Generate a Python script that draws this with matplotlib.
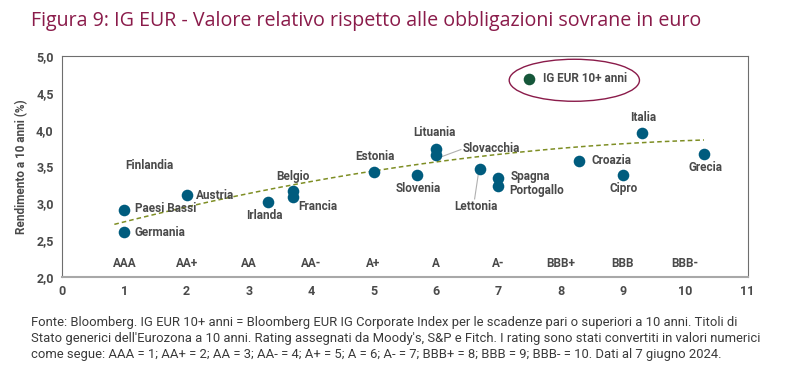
import matplotlib
matplotlib.use("Agg")
import matplotlib.pyplot as plt
import numpy as np
from matplotlib.patches import Ellipse

# Paesi, rating numerico e rendimento a 10 anni
countries = ["Paesi Bassi", "Germania", "Austria", "Irlanda", "Belgio", "Francia",
             "Estonia", "Slovenia", "Lituania", "Slovacchia", "Lettonia", "Spagna",
             "Portogallo", "Croazia", "Cipro", "Italia", "Grecia"]
rating = [1.0, 1.0, 2.0, 3.3, 3.7, 3.7, 5.0, 5.7, 6.0, 6.0, 6.7, 7.0, 7.0, 8.3, 9.0, 9.3, 10.3]
yields = [2.91, 2.61, 3.12, 3.02, 3.17, 3.09, 3.43, 3.38, 3.74, 3.65, 3.47, 3.35, 3.23,
          3.58, 3.38, 3.96, 3.67]

ig_rating = 7.5
ig_yield = 4.69

rating_names = ["AAA", "AA+", "AA", "AA-", "A+", "A", "A-", "BBB+", "BBB", "BBB-"]
rating_pos = [1, 2, 3, 4, 5, 6, 7, 8, 9, 10]

# trend (polinomiale)
trend_coef = [-0.01003, 0.2327, 2.527]
trend_x = [0.84, 10.3]

# posizione delle etichette: (x, y, allineamento)
label_pos = {
    "Paesi Bassi": (1.17, 2.93, "left"),
    "Germania": (1.17, 2.60, "left"),
    "Austria": (2.15, 3.11, "left"),
    "Irlanda": (3.25, 2.83, "center"),
    "Belgio": (3.70, 3.37, "center"),
    "Francia": (3.79, 2.96, "left"),
    "Estonia": (5.02, 3.63, "center"),
    "Slovenia": (5.71, 3.20, "center"),
    "Lituania": (5.98, 3.96, "center"),
    "Slovacchia": (6.42, 3.74, "left"),
    "Lettonia": (6.64, 2.96, "center"),
    "Spagna": (7.19, 3.37, "left"),
    "Portogallo": (7.17, 3.18, "left"),
    "Croazia": (8.50, 3.58, "left"),
    "Cipro": (9.01, 3.20, "center"),
    "Italia": (9.33, 4.16, "center"),
    "Grecia": (10.32, 3.48, "center"),
}

teal = "#005C7E"
green = "#16573A"
maroon = "#8A1B4A"
olive = "#7E8E24"
grey = "#4A4A4A"

plt.rcParams["font.family"] = ["Roboto", "DejaVu Sans"]

fig = plt.figure(figsize=(8, 3.78), dpi=100)
ax = fig.add_axes([0.0775, 0.267, 0.857, 0.585])

# linea di tendenza
tx = np.linspace(trend_x[0], trend_x[1], 200)
ax.plot(tx, np.polyval(trend_coef, tx), linestyle=(0, (3, 2)), color=olive, lw=1.1, zorder=2)

ax.scatter(rating, yields, s=70, color=teal, zorder=3, linewidths=0)
ax.scatter([ig_rating], [ig_yield], s=70, color=green, zorder=3, linewidths=0)

lab_font = dict(fontsize=8.5, fontweight="bold", color=grey)
for c in countries:
    lx, ly, ha = label_pos[c]
    ax.text(lx, ly, c, ha=ha, va="center", **lab_font)
ax.text(1.4, 3.52, "Finlandia", ha="center", va="center", **lab_font)
ax.text(7.72, ig_yield, "IG EUR 10+ anni", ha="left", va="center", **lab_font)

# linee guida
i = countries.index("Slovacchia")
ax.plot([rating[i] + 0.08, 6.40], [yields[i] - 0.02, 3.73], color="#B0B0B0", lw=0.8, zorder=1)
i = countries.index("Lettonia")
ax.plot([rating[i] - 0.02, 6.62], [yields[i] - 0.07, 3.06], color="#B0B0B0", lw=0.8, zorder=1)

ax.add_patch(Ellipse((8.22, 4.67), 2.09, 0.57, fill=False, edgecolor=maroon, lw=1.0))

for p, n in zip(rating_pos, rating_names):
    ax.text(p, 2.18, n, ha="center", va="center", **lab_font)

ax.set_xlim(0, 11)
ax.set_ylim(2.0, 5.0)
ax.set_xticks(range(0, 12))
ax.set_yticks([2.0, 2.5, 3.0, 3.5, 4.0, 4.5, 5.0])
ax.set_yticklabels(["2,0", "2,5", "3,0", "3,5", "4,0", "4,5", "5,0"])
ax.tick_params(length=0, labelsize=9, labelcolor=grey, pad=6)
for t in ax.get_xticklabels() + ax.get_yticklabels():
    t.set_fontweight("bold")
ax.set_ylabel("Rendimento a 10 anni (%)", fontsize=8.5, fontweight="bold", color=grey, labelpad=6)

for s in ["top", "right", "left"]:
    ax.spines[s].set_color("#6E6E6E")
    ax.spines[s].set_linewidth(0.8)
ax.spines["bottom"].set_color("#A8A8A8")
ax.spines["bottom"].set_linewidth(1.5)

fig.text(0.039, 0.945, "Figura 9: IG EUR - Valore relativo rispetto alle obbligazioni sovrane in euro",
         fontsize=14.1, color=maroon, family="Open Sans", va="center", ha="left")

note = ("Fonte: Bloomberg. IG EUR 10+ anni = Bloomberg EUR IG Corporate Index per le scadenze pari o superiori a 10 anni. Titoli di\n"
        "Stato generici dell'Eurozona a 10 anni. Rating assegnati da Moody's, S&P e Fitch. I rating sono stati convertiti in valori numerici\n"
        "come segue: AAA = 1; AA+ = 2; AA = 3; AA- = 4; A+ = 5; A = 6; A- = 7; BBB+ = 8; BBB = 9; BBB- = 10. Dati al 7 giugno 2024.")
fig.text(0.039, 0.165, note, fontsize=9.4, color="#3A3A3A", family="Roboto", va="top", ha="left",
         linespacing=1.3)

fig.savefig("out.png", dpi=100)
